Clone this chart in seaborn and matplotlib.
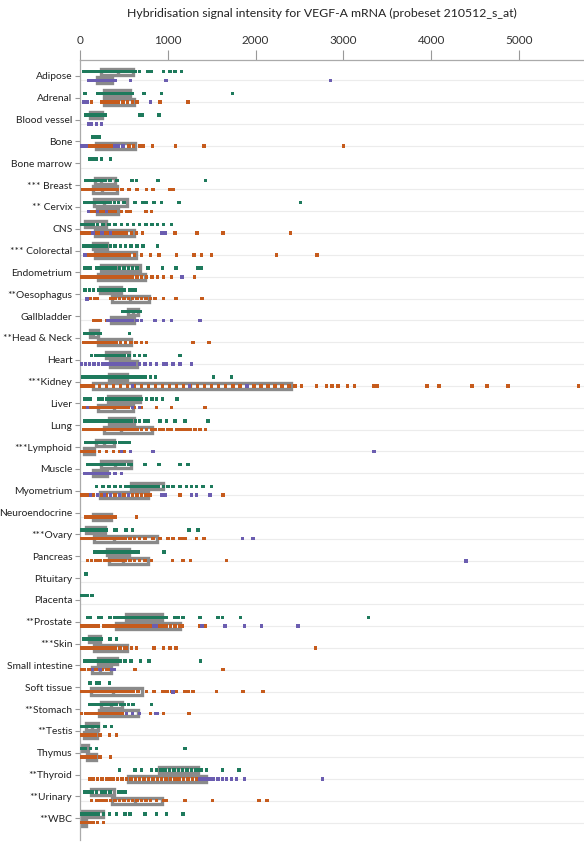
import numpy as np
import pandas as pd
import matplotlib
matplotlib.use("Agg")
import matplotlib.pyplot as plt
import seaborn as sns
from matplotlib.ticker import FixedLocator

# tissue rows, top to bottom (stars mark significant differences)
tissues = ["Adipose", "Adrenal", "Blood vessel", "Bone", "Bone marrow", "*** Breast",
           "** Cervix", "CNS", "*** Colorectal", "Endometrium", "**Oesophagus",
           "Gallbladder", "**Head & Neck", "Heart", "***Kidney", "Liver", "Lung",
           "***Lymphoid", "Muscle", "Myometrium", "Neuroendocrine", "***Ovary",
           "Pancreas", "Pituitary", "Placenta", "**Prostate", "***Skin",
           "Small intestine", "Soft tissue", "**Stomach", "**Testis", "Thymus",
           "**Thyroid", "**Urinary", "**WBC"]

x_ticks = [0, 1000, 2000, 3000, 4000, 5000]

# normal tissue samples (green, upper sub-row)
normal = {
    "Adipose": [38, 68, 95, 110, 133, 159, 190, 215, 240, 265, 290, 315, 340, 365, 390, 415, 440,
                465, 490, 515, 540, 565, 585, 600, 625, 675, 777, 815, 948, 1023, 1080, 1156],
    "Adrenal": [57, 200, 240, 260, 284, 320, 360, 400, 440, 480, 520, 560, 600, 728, 929, 1736],
    "Blood vessel": [60, 75, 83, 95, 110, 125, 140, 159, 175, 190, 210, 227, 246, 284, 675, 713, 902],
    "Bone": [144, 182, 220],
    "Bone marrow": [106, 133, 163, 190, 246, 349],
    "*** Breast": [68, 100, 140, 150, 165, 180, 195, 210, 230, 250, 270, 285, 340, 420, 590, 645, 890, 1430],
    "** Cervix": [57, 75, 95, 110, 125, 140, 150, 165, 180, 195, 210, 225, 240, 260, 280, 300, 320,
                  350, 390, 440, 500, 625, 720, 758, 841, 929, 1129, 2510],
    "CNS": [10, 15, 20, 25, 30, 35, 40, 45, 50, 55, 60, 65, 70, 75, 80, 85, 90, 95, 100, 105, 110,
            115, 120, 125, 130, 135, 140, 145, 150, 155, 200, 260, 330, 400, 470, 540, 610, 680,
            750, 820, 880, 948, 1042],
    "*** Colorectal": [38, 60, 80, 100, 115, 125, 135, 145, 150, 155, 160, 165, 170, 175, 180, 190,
                       195, 205, 210, 220, 225, 235, 260, 300, 350, 400, 460, 520, 580, 650, 720, 880],
    "Endometrium": [57, 83, 114, 190, 227, 250, 280, 320, 360, 400, 450, 500, 550, 600, 650, 777,
                    940, 1092, 1345, 1383],
    "**Oesophagus": [57, 106, 152, 208, 230, 260, 290, 320, 350, 380, 420, 460, 500, 569, 598, 625],
    "Gallbladder": [485, 523, 568, 606, 644, 675, 690],
    "**Head & Neck": [57, 80, 110, 130, 150, 170, 200, 230, 561],
    "Heart": [133, 180, 230, 270, 300, 322, 350, 380, 410, 440, 470, 500, 560, 620, 680, 740, 1137],
    "***Kidney": [30, 60, 90, 120, 150, 180, 210, 240, 270, 300, 341, 350, 360, 370, 380, 390, 400,
                  410, 420, 430, 440, 450, 460, 470, 480, 490, 500, 510, 520, 530, 545, 580, 620,
                  660, 700, 740, 800, 860, 1522, 1727],
    "Liver": [57, 83, 121, 208, 250, 300, 340, 370, 400, 430, 460, 490, 520, 550, 588, 620, 660,
              700, 760, 820, 872, 937, 1107],
    "Lung": [57, 100, 140, 180, 220, 260, 296, 310, 330, 345, 360, 375, 390, 405, 420, 435, 450,
             465, 480, 495, 510, 530, 550, 565, 588, 630, 680, 740, 777, 910, 985, 1080, 1194, 1459],
    "***Lymphoid": [68, 100, 133, 150, 170, 190, 210, 230, 250, 270, 290, 310, 341, 368, 398, 455,
                    493, 523, 561],
    "Muscle": [83, 114, 152, 190, 227, 260, 300, 340, 380, 420, 460, 500, 550, 587, 739, 902, 1137, 1232],
    "Myometrium": [190, 260, 330, 400, 460, 523, 540, 560, 580, 600, 620, 640, 660, 680, 700, 720,
                   740, 760, 780, 800, 820, 850, 870, 891, 950, 1000, 1060, 1137, 1213, 1270, 1327,
                   1402, 1497],
    "***Ovary": [10, 20, 30, 40, 50, 60, 68, 80, 90, 100, 110, 120, 130, 140, 150, 160, 170, 190,
                 227, 265, 303, 398, 417, 523, 598, 1243, 1345],
    "Pancreas": [170, 210, 250, 290, 311, 340, 370, 400, 430, 460, 490, 523, 560, 600, 640, 663, 955],
    "Pituitary": [68],
    "Placenta": [5, 20, 40, 60, 80, 135],
    "**Prostate": [83, 121, 208, 246, 341, 398, 436, 450, 480, 500, 520, 540, 560, 580, 600, 620,
                   640, 660, 680, 700, 720, 740, 760, 780, 800, 820, 840, 860, 880, 900, 920, 940,
                   960, 985, 1080, 1118, 1175, 1364, 1573, 1622, 1827, 3285],
    "***Skin": [38, 68, 83, 100, 120, 140, 160, 171, 190, 227, 246, 341, 417],
    "Small intestine": [57, 90, 120, 150, 190, 200, 210, 220, 230, 240, 250, 260, 270, 280, 290,
                        303, 340, 380, 420, 460, 512, 580, 690, 788, 1372],
    "Soft tissue": [114, 190, 220, 333],
    "**Stomach": [114, 150, 190, 227, 260, 290, 320, 350, 380, 417, 460, 500, 550, 606, 815],
    "**Testis": [8, 30, 57, 90, 120, 150, 180, 208, 284, 360],
    "Thymus": [0, 5, 10, 20, 30, 40, 50, 57, 120, 190, 1194],
    "**Thyroid": [447, 625, 701, 815, 872, 920, 970, 1020, 1070, 1120, 1170, 1220, 1270, 1320,
                  1364, 1383, 1440, 1622, 1812],
    "**Urinary": [57, 83, 114, 144, 190, 246, 284, 341, 436, 474, 512],
    "**WBC": [0, 3, 6, 9, 12, 15, 18, 21, 24, 27, 30, 35, 40, 45, 50, 55, 60, 65, 70, 76, 100, 140,
              180, 208, 265, 333, 417, 512, 569, 739, 872, 985, 1175],
}

# tumour samples (orange, lower sub-row)
tumour = {
    "Adrenal": [133, 250, 280, 320, 360, 400, 440, 490, 540, 600, 650, 910, 1232],
    "Bone": [95, 120, 150, 190, 230, 265, 300, 340, 380, 420, 560, 610, 680, 720, 826, 1088, 1410, 3000],
    "*** Breast": [30, 50, 70, 95, 110, 125, 140, 150, 160, 170, 185, 200, 215, 230, 250, 270, 290,
                   310, 330, 350, 380, 420, 480, 560, 650, 760, 830, 1020, 1060],
    "** Cervix": [100, 133, 160, 190, 220, 250, 280, 310, 340, 370, 400, 473, 531, 569, 750, 815],
    "CNS": [10, 30, 50, 68, 100, 130, 160, 190, 220, 250, 280, 310, 340, 370, 400, 430, 460, 490,
            531, 587, 644, 712, 1080, 1334, 1630, 2400],
    "*** Colorectal": [60, 80, 95, 110, 125, 133, 145, 160, 175, 190, 205, 220, 240, 260, 280, 300,
                       320, 340, 365, 390, 420, 450, 480, 510, 560, 620, 700, 800, 900, 1099, 1296,
                       1383, 1497, 2236, 2700],
    "Endometrium": [20, 50, 80, 110, 140, 170, 200, 240, 280, 320, 360, 400, 440, 480, 520, 560, 600,
                    650, 700, 760, 820, 880, 950, 1040, 1307],
    "**Oesophagus": [121, 170, 197, 352, 400, 450, 500, 550, 600, 650, 700, 750, 803, 852, 948, 1092, 1387],
    "Gallbladder": [159, 190, 227, 300, 350],
    "**Head & Neck": [40, 80, 110, 144, 170, 200, 230, 260, 290, 320, 350, 380, 417, 460, 520, 580,
                      640, 700, 758, 1289, 1470],
    "***Kidney": [10, 20, 30, 40, 50, 60, 70, 80, 90, 100, 105, 110, 115, 120, 128, 135,
                  150, 220, 300, 380, 460, 540, 620, 700, 780, 860, 940, 1020, 1100, 1180, 1260,
                  1340, 1420, 1500, 1580, 1660, 1740, 1820, 1900, 1980, 2060, 2140, 2220, 2300, 2380,
                  2450, 2522, 2692, 2806, 2870, 2940, 3044, 3124, 3351, 3385, 3953, 4090, 4464,
                  4635, 4873, 5680],
    "Liver": [38, 68, 121, 150, 180, 210, 240, 270, 300, 330, 360, 390, 420, 450, 480, 510, 550, 620,
              700, 872, 1042, 1421],
    "Lung": [38, 60, 80, 100, 120, 140, 160, 180, 200, 215, 230, 246, 260, 275, 290, 305, 320, 335,
             350, 365, 380, 395, 410, 425, 440, 455, 470, 485, 500, 515, 530, 545, 560, 575, 590,
             606, 650, 700, 758, 815, 853, 910, 948, 1004, 1042, 1099, 1137, 1175, 1213, 1251,
             1308, 1364, 1432],
    "***Lymphoid": [0, 5, 10, 15, 20, 25, 30, 35, 40, 45, 50, 55, 60, 65, 70, 75, 80, 85, 90, 95,
                    100, 105, 110, 115, 120, 125, 133, 160, 220, 300, 380, 450, 500],
    "Myometrium": [10, 40, 70, 114, 150, 200, 250, 300, 350, 400, 450, 500, 550, 600, 650, 700, 750,
                   796, 1137, 1630],
    "Neuroendocrine": [68, 95, 114, 152, 182, 220, 260, 300, 340, 380, 398, 644],
    "***Ovary": [10, 30, 50, 68, 80, 95, 110, 120, 135, 150, 165, 180, 195, 210, 240, 270, 300, 330,
                 360, 390, 420, 450, 480, 520, 569, 620, 680, 740, 834, 910, 1004, 1061, 1137, 1167,
                 1194, 1327, 1410],
    "Pancreas": [83, 130, 180, 230, 280, 311, 340, 370, 400, 430, 460, 490, 520, 569, 620, 680, 740,
                 815, 1054, 1175, 1258, 1668],
    "**Prostate": [10, 50, 90, 130, 170, 210, 265, 300, 340, 380, 420, 460, 500, 540, 580, 620, 660,
                   700, 740, 780, 820, 860, 900, 940, 978, 1030, 1080, 1137, 1160, 1360, 1380, 1400, 1430],
    "***Skin": [20, 40, 60, 83, 100, 120, 140, 160, 180, 200, 220, 240, 260, 280, 300, 320, 340, 360,
                398, 455, 512, 531, 587, 644, 841, 948, 1023, 1092, 2680],
    "Small intestine": [19, 50, 95, 130, 170, 210, 250, 300, 341, 625, 1630],
    "Soft tissue": [19, 25, 35, 40, 50, 55, 65, 70, 80, 85, 90, 95, 120, 140, 160, 180, 200, 220, 240,
                    260, 280, 300, 320, 340, 360, 380, 400, 420, 440, 460, 480, 500, 520, 540, 560,
                    580, 606, 663, 758, 841, 947, 990, 1040, 1099, 1194, 1232, 1288, 1554, 1857, 2084],
    "**Stomach": [19, 60, 100, 140, 182, 210, 240, 270, 300, 330, 360, 400, 436, 480, 800, 950, 1243],
    "**Testis": [0, 20, 38, 60, 85, 110, 140, 171, 227, 333, 417],
    "Thymus": [19, 57, 80, 100, 130, 171, 227, 348],
    "**Thyroid": [106, 150, 200, 250, 300, 340, 379, 430, 480, 530, 580, 630, 680, 730, 780, 830, 880,
                  930, 980, 1030, 1080, 1130, 1180, 1230, 1280, 1327],
    "**Urinary": [133, 190, 227, 265, 296, 350, 400, 450, 500, 550, 600, 650, 700, 750, 800, 872, 948,
                  978, 1194, 1508, 2039, 2130],
    "**WBC": [0, 5, 10, 15, 20, 25, 30, 35, 40, 45, 50, 57, 100, 150, 200, 265],
}

# other disease samples (purple, lower sub-row)
other = {
    "Adipose": [95, 121, 152, 170, 190, 210, 230, 250, 265, 290, 310, 330, 350, 375, 398, 576, 978, 2850],
    "Adrenal": [38, 80, 803],
    "Blood vessel": [95, 133, 190, 246],
    "Bone": [10, 40, 68, 400, 440, 490],
    "** Cervix": [95, 200, 300],
    "CNS": [150, 250, 350, 929, 966],
    "*** Colorectal": [57],
    "Endometrium": [1156],
    "**Oesophagus": [76],
    "Gallbladder": [320, 340, 360, 380, 400, 420, 440, 460, 480, 500, 520, 560, 600, 650, 700, 852,
                    948, 1042, 1364],
    "Heart": [10, 60, 110, 160, 210, 260, 300, 333, 340, 350, 360, 370, 380, 390, 400, 420, 430, 450,
              460, 480, 490, 510, 520, 540, 580, 620, 680, 740, 800, 872, 948, 985, 1061, 1137, 1270],
    "***Kidney": [600, 1250, 1900],
    "Liver": [83, 600, 680],
    "***Lymphoid": [474, 576, 834, 3351],
    "Muscle": [57, 90, 120, 152, 180, 210, 240, 270, 300, 333, 398, 474],
    "Myometrium": [120, 200, 280, 350, 450, 550, 929, 966, 1270, 1327, 1478],
    "***Ovary": [1850, 1971],
    "Pancreas": [4400],
    "**Prostate": [840, 870, 1390, 1649, 1876, 2066, 2482],
    "Small intestine": [140, 230, 360, 390],
    "Soft tissue": [1060],
    "**Stomach": [530, 600, 680, 860, 880],
    "**Thyroid": [1360, 1400, 1440, 1480, 1516, 1573, 1622, 1668, 1724, 1781, 1876, 2760],
}

green = "#1e7a5c"
orange = "#c65b1c"
purple = "#6b5db0"
box_grey = "#8a8a8a"

rows = []
for t in tissues:
    for v in normal.get(t, []):
        rows.append((t, "normal", "top", v))
    for v in tumour.get(t, []):
        rows.append((t, "tumour", "bottom", v))
    for v in other.get(t, []):
        rows.append((t, "other", "bottom", v))
df = pd.DataFrame(rows, columns=["tissue", "group", "row", "value"])

sns.set_style("white")
plt.rcParams["font.family"] = ["Lato", "DejaVu Sans"]

fig = plt.figure(figsize=(5.84, 8.52), dpi=100)
ax = fig.add_axes([80 / 584, 1 - 840 / 852, 504 / 584, 780 / 852])

# boxes only where a sub-row has enough samples
box_df = df.groupby(["tissue", "row"]).filter(lambda g: len(g) >= 7)
sns.boxplot(data=box_df, x="value", y="tissue", hue="row", order=tissues,
            hue_order=["top", "bottom"], dodge=True, width=0.8, gap=0.3,
            whis=0, showcaps=False, showfliers=False, saturation=1,
            palette={"top": "white", "bottom": "white"}, linecolor=box_grey,
            linewidth=2.4, legend=False, ax=ax)

for grp, col in [("normal", green), ("tumour", orange), ("other", purple)]:
    sub = df[df["group"] == grp]
    sns.stripplot(data=sub, x="value", y="tissue", hue="row", order=tissues,
                  hue_order=["top", "bottom"], dodge=True, jitter=False,
                  palette={"top": col, "bottom": col}, marker="s", size=2.5,
                  linewidth=0, legend=False, ax=ax, zorder=3)

ax.set_xlim(0, 5740)
ax.set_ylim(35.0, -0.73)
ax.xaxis.tick_top()
ax.set_xticks(x_ticks)
ax.set_xlabel("")
ax.set_ylabel("")
ax.tick_params(axis="x", which="major", top=True, length=7, width=0.8, color="#999999",
               pad=3, labelsize=8.5, labelcolor="#333333")
ax.tick_params(axis="y", which="major", left=True, length=3.5, width=0.8, color="#999999",
               pad=2, labelsize=7.4, labelcolor="#222222")

# faint row separators running through the lower sub-row
ax.yaxis.set_minor_locator(FixedLocator(np.arange(len(tissues)) + 0.2))
ax.tick_params(axis="y", which="minor", left=False)
ax.grid(False)
ax.grid(which="minor", axis="y", color="#ececec", linewidth=0.8)
ax.set_axisbelow(True)

for side in ["right", "bottom"]:
    ax.spines[side].set_visible(False)
for side in ["top", "left"]:
    ax.spines[side].set_color("#aaaaaa")
    ax.spines[side].set_linewidth(0.9)

fig.text(0.552, 1 - 13 / 852, "Hybridisation signal intensity for VEGF-A mRNA (probeset 210512_s_at)",
         ha="center", va="center", fontsize=8.8, color="#222222")

fig.savefig("out.png", dpi=100)
